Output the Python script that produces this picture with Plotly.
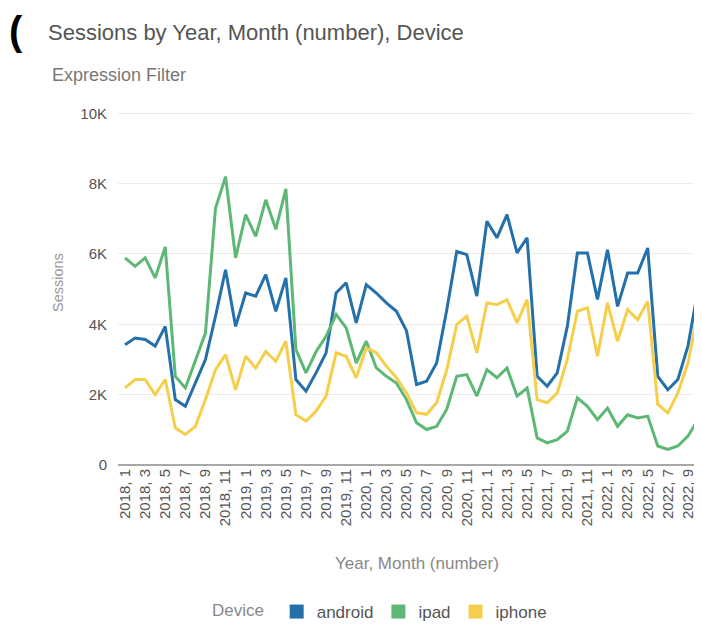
import plotly.graph_objects as go

# Year, Month (number) categories, 2018-1 .. 2022-10
maaneder = [f"{aar}, {mnd}" for aar in range(2018, 2023) for mnd in range(1, 13)][:58]

android = [
    3.42, 3.61, 3.57, 3.38, 3.94, 1.86, 1.67, 2.33, 3.00, 4.23, 5.55, 3.94,
    4.89, 4.80, 5.41, 4.37, 5.32, 2.43, 2.10, 2.62, 3.19, 4.89, 5.18, 4.04,
    5.13, 4.89, 4.61, 4.37, 3.82, 2.29, 2.38, 2.90, 4.40, 6.07, 5.98, 4.80,
    6.93, 6.46, 7.12, 6.03, 6.46, 2.52, 2.24, 2.62, 3.94, 6.03, 6.03, 4.71,
    6.12, 4.51, 5.46, 5.46, 6.17, 2.52, 2.14, 2.43, 3.38, 4.98,
]
ipad = [
    5.89, 5.65, 5.89, 5.32, 6.20, 2.52, 2.19, 3.00, 3.75, 7.30, 8.20, 5.89,
    7.12, 6.50, 7.54, 6.70, 7.85, 3.28, 2.62, 3.22, 3.66, 4.28, 3.90, 2.90,
    3.52, 2.76, 2.52, 2.33, 1.86, 1.20, 1.01, 1.10, 1.58, 2.52, 2.57, 1.96,
    2.71, 2.48, 2.76, 1.96, 2.19, 0.77, 0.63, 0.72, 0.96, 1.91, 1.67, 1.29,
    1.62, 1.10, 1.43, 1.34, 1.39, 0.54, 0.44, 0.54, 0.82, 1.29,
]
iphone = [
    2.19, 2.43, 2.43, 2.00, 2.43, 1.06, 0.87, 1.10, 1.86, 2.71, 3.14, 2.14,
    3.09, 2.76, 3.23, 2.95, 3.52, 1.43, 1.25, 1.53, 1.96, 3.19, 3.09, 2.48,
    3.33, 3.19, 2.81, 2.48, 2.05, 1.48, 1.44, 1.77, 2.70, 3.99, 4.23, 3.19,
    4.61, 4.56, 4.70, 4.04, 4.70, 1.86, 1.77, 2.05, 3.00, 4.37, 4.47, 3.09,
    4.61, 3.52, 4.42, 4.13, 4.65, 1.72, 1.48, 2.05, 2.90, 4.32,
]

y_ticks = [0, 2000, 4000, 6000, 8000, 10000]
y_labels = ["0", "2K", "4K", "6K", "8K", "10K"]

farger = {"android": "#2470ab", "ipad": "#5cb874", "iphone": "#f5cf4c"}
serier = {"android": android, "ipad": ipad, "iphone": iphone}

font = "Liberation Sans, Arial, sans-serif"

# the html page has an 8px body margin, so the figure is 8px smaller than the window
W, H = 694, 619
OFF = 8

fig = go.Figure()

for navn, verdier in serier.items():
    fig.add_trace(
        go.Scatter(
            x=maaneder,
            y=[v * 1000 for v in verdier],
            mode="lines",
            name=navn,
            line=dict(color=farger[navn], width=3),
            showlegend=False,
        )
    )
    # square swatch for the legend
    fig.add_trace(
        go.Scatter(
            x=[None],
            y=[None],
            mode="markers",
            name=navn,
            marker=dict(symbol="square", size=14, color=farger[navn]),
        )
    )

fig.update_layout(
    width=W,
    height=H,
    margin=dict(l=118 - OFF, r=0, t=108 - OFF, b=H - (465 - OFF)),
    plot_bgcolor="white",
    paper_bgcolor="white",
    font=dict(family=font, color="#555555", size=15),
    title=dict(
        text="Sessions by Year, Month (number), Device",
        x=(48 - OFF) / W,
        xanchor="left",
        xref="container",
        y=1 - (32 - OFF) / H,
        yanchor="middle",
        yref="container",
        font=dict(size=22, color="#555555"),
    ),
    legend=dict(
        orientation="h",
        title=dict(text="Device ", font=dict(size=17, color="#888888")),
        font=dict(size=17, color="#555555"),
        x=(381 - OFF) / W,
        xanchor="center",
        xref="container",
        y=1 - (612 - OFF) / H,
        yanchor="middle",
        yref="container",
        itemwidth=30,
    ),
    xaxis=dict(
        type="category",
        range=[-0.7, 57.4],
        tickmode="array",
        tickvals=maaneder[::2],
        ticktext=maaneder[::2],
        tickangle=-90,
        tickfont=dict(size=15, color="#555555"),
        showgrid=False,
        showline=False,
        zeroline=False,
        ticks="",
    ),
    yaxis=dict(
        range=[0, 10150],
        tickmode="array",
        tickvals=y_ticks,
        ticktext=y_labels,
        tickfont=dict(size=15, color="#555555"),
        showgrid=True,
        gridcolor="#ebebeb",
        gridwidth=1,
        zeroline=True,
        zerolinecolor="#a8a8a8",
        zerolinewidth=1.5,
        ticklabelstandoff=10,
    ),
    annotations=[
        dict(
            text="Expression Filter",
            x=(50 - 118) / 584,
            y=(465 - 75) / 357,
            xref="paper",
            yref="paper",
            xanchor="left",
            yanchor="middle",
            showarrow=False,
            font=dict(size=18, color="#777777"),
        ),
        dict(
            text="Sessions",
            x=(58 - 118) / 584,
            y=(465 - 283) / 357,
            xref="paper",
            yref="paper",
            xanchor="center",
            yanchor="middle",
            textangle=-90,
            showarrow=False,
            font=dict(size=14.5, color="#999999"),
        ),
        dict(
            text="Year, Month (number)",
            x=(417 - 118) / 584,
            y=(465 - 563) / 357,
            xref="paper",
            yref="paper",
            xanchor="center",
            yanchor="middle",
            showarrow=False,
            font=dict(size=17, color="#888888"),
        ),
        dict(
            text="<b>(</b>",
            x=(16 - 118) / 584,
            y=(465 - 31) / 357,
            xref="paper",
            yref="paper",
            xanchor="center",
            yanchor="middle",
            showarrow=False,
            font=dict(size=40, color="#000000"),
        ),
    ],
)

fig.write_html("out.html")
